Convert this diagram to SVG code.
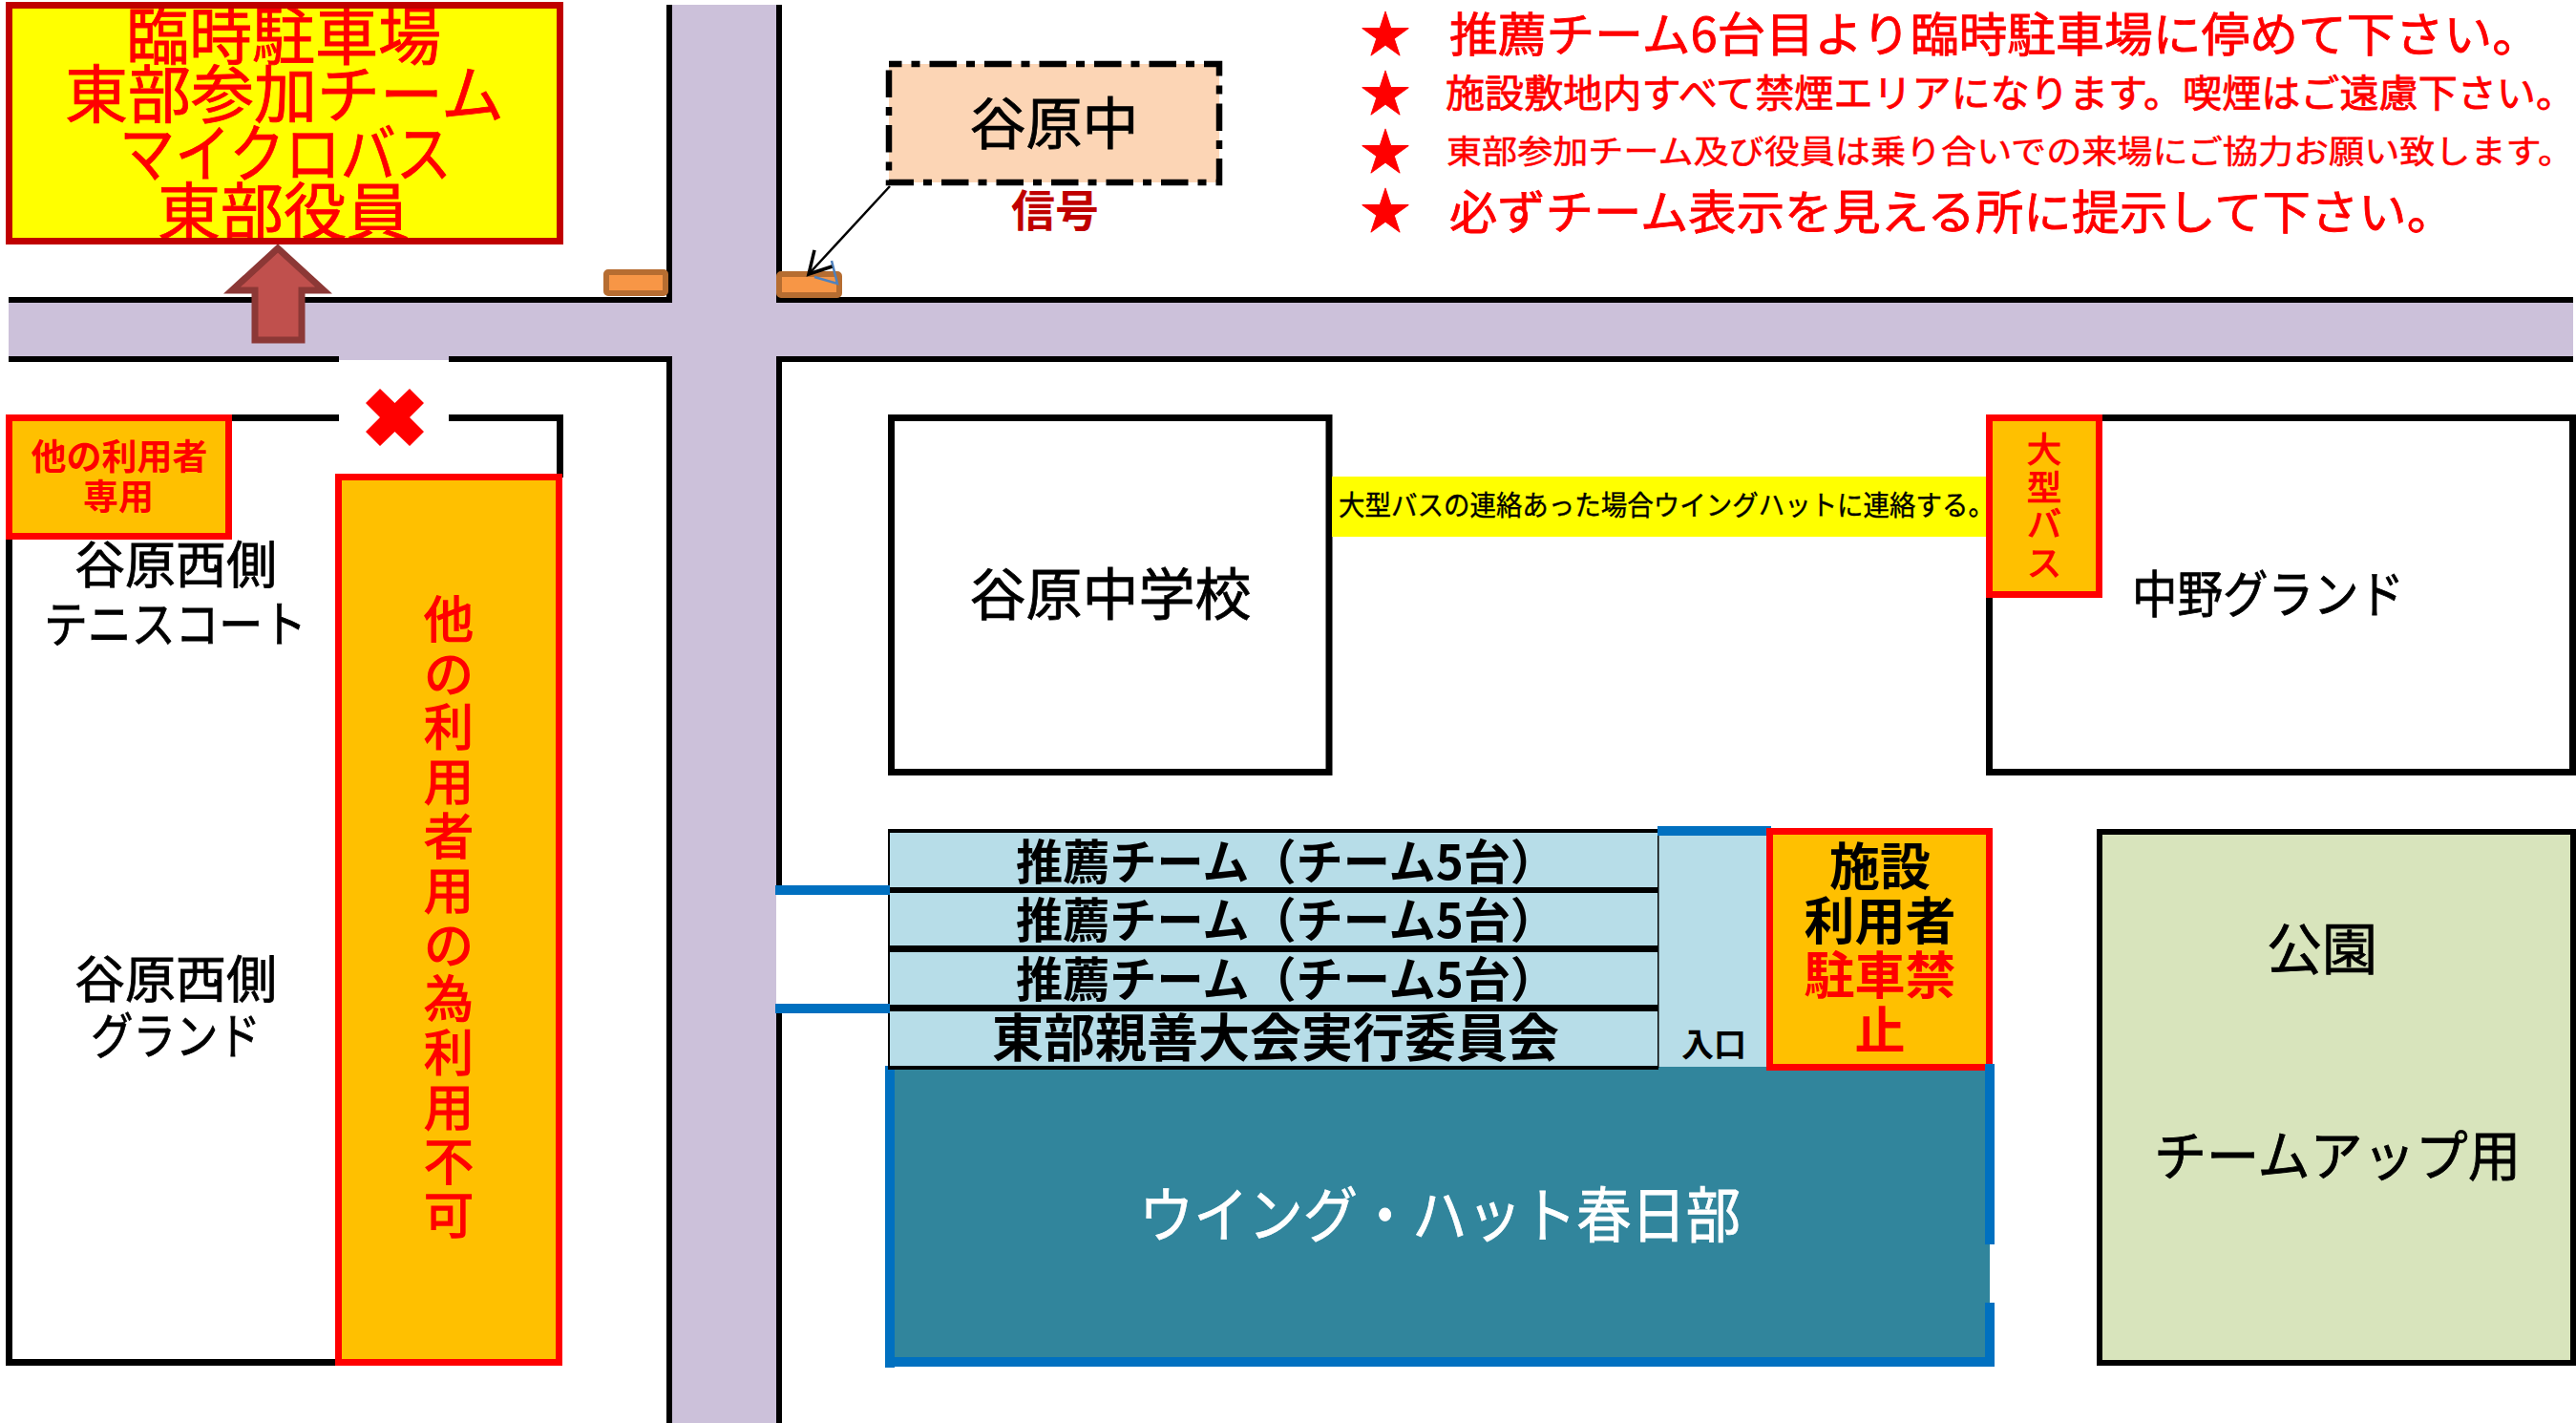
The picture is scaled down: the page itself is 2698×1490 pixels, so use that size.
<svg xmlns="http://www.w3.org/2000/svg" width="2698" height="1490" viewBox="0 0 2698 1490">
<style>
text{font-family:"Noto Sans CJK JP","Noto Sans",sans-serif;fill:#000;stroke:#000;stroke-width:.8}
.b{font-weight:700;stroke-width:0}
.m{text-anchor:middle}
.r{fill:#f00;stroke:#f00}
.semi{stroke-width:1.5}
.road{fill:#ccc1da}
.k{fill:#000}
.org{fill:#ffc000;stroke:#f00;stroke-width:7}
.box{fill:#fff;stroke:#000;stroke-width:7}
.row{fill:#b7dde8}
.blue{fill:#0070c0}
.sig{fill:#f79646;stroke:#b66d31;stroke-width:6;stroke-linejoin:round}
</style>
<defs>
<marker id="open" markerUnits="userSpaceOnUse" viewBox="-26 -16 30 32" refX="0" refY="0" markerWidth="30" markerHeight="32" orient="auto" overflow="visible">
<path d="M-22.5 -12.6L0 0L-22.5 12.6" fill="none" stroke="#000" stroke-width="3.5"/>
</marker>
</defs>
<rect width="2698" height="1490" fill="#fff"/>

<g id="roads">
<rect class="road" x="9" y="317" width="2686" height="56"/>
<rect class="road" x="355" y="373" width="115" height="4"/>
<rect class="road" x="704" y="5" width="109" height="1485"/>
<rect class="k" x="9" y="311" width="695" height="6"/>
<rect class="k" x="813" y="311" width="1882" height="6"/>
<rect class="k" x="9" y="373" width="346" height="6"/>
<rect class="k" x="470" y="373" width="234" height="6"/>
<rect class="k" x="813" y="373" width="1882" height="6"/>
<rect class="k" x="698" y="5" width="6" height="312"/>
<rect class="k" x="698" y="373" width="6" height="1117"/>
<rect class="k" x="813" y="5" width="6" height="312"/>
<rect class="k" x="813" y="373" width="6" height="554"/>
<rect class="k" x="813" y="1060" width="6" height="430"/>
</g>

<g id="node-temp-parking">
<rect x="9.5" y="5.5" width="577" height="247" fill="#ff0"/>
<text class="r m" x="297" y="62" font-size="66">臨時駐車場</text>
<text class="r m" x="298" y="123" font-size="66">東部参加チーム</text>
<text class="r" x="125" y="185" font-size="66" textLength="348" lengthAdjust="spacingAndGlyphs">マイクロバス</text>
<text class="r m" x="297" y="246" font-size="66">東部役員</text>
<rect x="9.5" y="5.5" width="577" height="247" fill="none" stroke="#c00000" stroke-width="7"/>
</g>

<g id="node-signal-left"><rect class="sig" x="635" y="285" width="62" height="22" rx="2"/></g>
<g id="node-signal-right">
<rect class="sig" x="816" y="287" width="63" height="22" rx="2"/>
<path d="M871 273L877 297L853 290" fill="none" stroke="#4f81bd" stroke-width="2.5"/>
</g>

<g id="node-tanihara-naka">
<rect x="931" y="67" width="346" height="124" fill="#fcd5b5" stroke="#000" stroke-width="6.5" stroke-dasharray="28.5 10 9 10" stroke-dashoffset="15"/>
<text class="m" x="1104" y="151" font-size="59">谷原中</text>
</g>
<g id="node-signal-label"><text class="m b" x="1105" y="237" font-size="46" style="fill:#c00000">信号</text></g>

<g id="node-west-tennis">
<rect class="k" x="6" y="434" width="7" height="996"/>
<rect class="k" x="6" y="1423" width="352" height="7"/>
<rect class="k" x="243" y="434" width="112" height="7"/>
<rect class="k" x="470" y="434" width="120" height="7"/>
<rect class="k" x="583" y="434" width="7" height="66"/>
<text class="m" x="184" y="611" font-size="53">谷原西側</text>
<text x="46" y="673" font-size="52" textLength="275" lengthAdjust="spacingAndGlyphs">テニスコート</text>
</g>
<g id="node-west-ground">
<text class="m" x="184" y="1045" font-size="53">谷原西側</text>
<text x="95" y="1104" font-size="52" textLength="178" lengthAdjust="spacingAndGlyphs">グランド</text>
</g>
<g id="node-other-only">
<rect class="org" x="9.5" y="437.5" width="230" height="124"/>
<text class="r m b" x="125" y="492" font-size="37">他の利用者</text>
<text class="r m b" x="124" y="534" font-size="37">専用</text>
</g>
<g id="node-other-strip">
<rect class="org" x="354.5" y="499.5" width="231" height="927"/>
<text class="r m semi" font-size="52" x="470 470 470 470 470 470 470 470 470 470 470 470" y="668 725 781 838 895 952 1009 1065 1122 1179 1236 1292">他の利用者用の為利用不可</text>
</g>
<g id="node-no-entry"><path d="M444 422L429 407L413.500 422L398 407L383 422L398 437L383 452L398 467L413.500 452L429 467L444 452L429 437Z" fill="#f00"/></g>

<g id="node-school">
<rect class="box" x="933.500" y="437.500" width="458.500" height="371"/>
<text class="m" x="1163" y="644" font-size="59">谷原中学校</text>
</g>
<g id="node-bus-note">
<rect x="1395" y="499" width="690" height="63" fill="#ff0"/>
<text x="1402" y="540" font-size="29" textLength="687" lengthAdjust="spacingAndGlyphs" style="stroke-width:.4">大型バスの連絡あった場合ウイングハットに連絡する。</text>
</g>
<g id="node-nakano-ground">
<rect class="box" x="2083.500" y="437.500" width="611" height="371"/>
<text x="2233" y="642" font-size="53" textLength="285" lengthAdjust="spacingAndGlyphs">中野グランド</text>
</g>
<g id="node-large-bus">
<rect class="org" x="2083.500" y="437.500" width="115" height="185"/>
<text class="r m semi" font-size="36" x="2141 2141 2141 2141" y="484 524 562 603" style="stroke-width:1.2">大型バス</text>
</g>

<g id="node-hall">
<rect x="932" y="1117" width="1152" height="309" fill="#31859c"/>
<rect class="blue" x="927" y="1116" width="10" height="316"/>
<rect class="blue" x="927" y="1421" width="1162" height="10"/>
<rect class="blue" x="2079" y="1114" width="10" height="189"/>
<rect class="blue" x="2079" y="1364" width="10" height="67"/>
<text x="1193" y="1295" font-size="63" textLength="630" lengthAdjust="spacingAndGlyphs" style="fill:#fff;stroke:#fff">ウイング・ハット春日部</text>
</g>

<g id="node-parking-rows">
<rect class="row" x="930" y="870" width="923" height="247"/>
<rect class="k" x="930" y="868" width="806" height="4"/>
<rect class="k" x="930" y="929" width="807" height="6"/>
<rect class="k" x="930" y="990" width="807" height="7"/>
<rect class="k" x="930" y="1052" width="807" height="7"/>
<rect class="k" x="930" y="1116" width="807" height="4"/>
<rect class="k" x="930" y="868" width="2" height="250"/>
<rect class="k" x="1736" y="870" width="1.500" height="248"/>
<rect class="blue" x="1736" y="865" width="119" height="10"/>
<rect class="blue" x="812" y="927" width="120" height="10"/>
<rect class="blue" x="812" y="1051" width="120" height="10"/>
<text class="b" x="1064" y="921" font-size="50" textLength="567" lengthAdjust="spacingAndGlyphs">推薦チーム（チーム5台）</text>
<text class="b" x="1064" y="982" font-size="50" textLength="567" lengthAdjust="spacingAndGlyphs">推薦チーム（チーム5台）</text>
<text class="b" x="1064" y="1044" font-size="50" textLength="567" lengthAdjust="spacingAndGlyphs">推薦チーム（チーム5台）</text>
<text class="b m" x="1336" y="1107" font-size="54">東部親善大会実行委員会</text>
<text class="b m" x="1795" y="1106" font-size="34">入口</text>
</g>
<g id="node-no-parking">
<rect class="org" x="1853.500" y="870.500" width="230" height="247"/>
<text class="b m" x="1969" y="927" font-size="53">施設</text>
<text class="b m" x="1969" y="984" font-size="53">利用者</text>
<text class="b m r" x="1969" y="1041" font-size="53">駐車禁</text>
<text class="b m r" x="1969" y="1099" font-size="53">止</text>
<rect class="blue" x="2079" y="1114" width="10" height="8"/>
</g>
<g id="node-park">
<rect x="2199" y="871" width="496" height="556" fill="#d8e4bc" stroke="#000" stroke-width="6"/>
<text class="m" x="2432" y="1015" font-size="58">公園</text>
<text x="2256" y="1231" font-size="57" textLength="384" lengthAdjust="spacingAndGlyphs">チームアップ用</text>
</g>

<g id="node-notes">
<text class="r m" x="1451" y="55" font-size="52">★</text>
<text class="r m" x="1451" y="117" font-size="52">★</text>
<text class="r m" x="1451" y="178" font-size="52">★</text>
<text class="r m" x="1451" y="240" font-size="52">★</text>
<text class="r" x="1518" y="54" font-size="49" textLength="1143" lengthAdjust="spacingAndGlyphs">推薦チーム6台目より臨時駐車場に停めて下さい。</text>
<text class="r" x="1514" y="112" font-size="40" textLength="1183" lengthAdjust="spacingAndGlyphs">施設敷地内すべて禁煙エリアになります。喫煙はご遠慮下さい。</text>
<text class="r" x="1515" y="171" font-size="34" textLength="1180" lengthAdjust="spacingAndGlyphs" style="stroke-width:.5">東部参加チーム及び役員は乗り合いでの来場にご協力お願い致します。</text>
<text class="r" x="1518" y="240" font-size="49" textLength="1053" lengthAdjust="spacingAndGlyphs">必ずチーム表示を見える所に提示して下さい。</text>
</g>

<g id="connectors">
<path d="M291 260L339 304H316V356H267V304H243Z" fill="#c0504d" stroke="#8c3836" stroke-width="7" stroke-miterlimit="6"/>
<line x1="932" y1="195" x2="847" y2="287" stroke="#000" stroke-width="2.500" marker-end="url(#open)"/>
</g>
</svg>
